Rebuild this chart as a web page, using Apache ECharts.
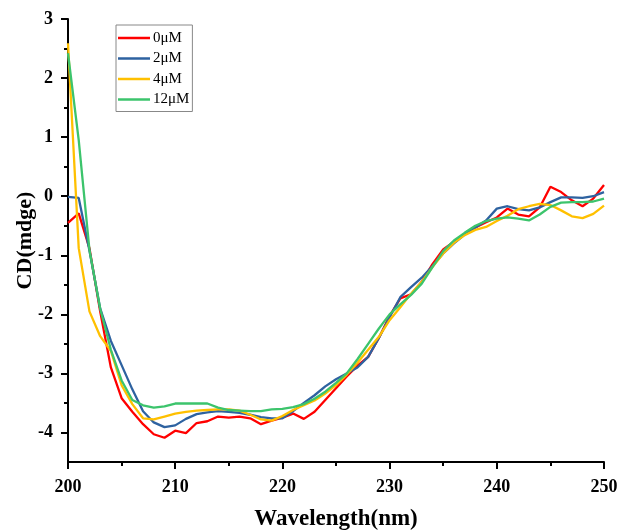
<!DOCTYPE html>
<html>
<head>
<meta charset="utf-8">
<script src="https://cdn.jsdelivr.net/npm/echarts@6/dist/echarts.min.js"></script>
<style>
html,body{margin:0;padding:0;background:#fff;}
#chart{width:622px;height:530px;}
</style>
</head>
<body>
<div id="chart"></div>
<script>
const wavelengths = [];
for (let w = 200; w <= 250; w++) wavelengths.push(w);

const seriesNames = ['0\u03bcM', '2\u03bcM', '4\u03bcM', '12\u03bcM'];

const cd0 = [-0.45,-0.29,-0.88,-1.95,-2.9,-3.42,-3.65,-3.86,-4.03,-4.09,
  -3.97,-4.01,-3.84,-3.81,-3.73,-3.75,-3.73,-3.76,-3.86,-3.80,
  -3.75,-3.68,-3.77,-3.65,-3.45,-3.25,-3.05,-2.87,-2.72,-2.4,
  -2.03,-1.73,-1.66,-1.45,-1.15,-0.9,-0.77,-0.64,-0.53,-0.44,
  -0.36,-0.21,-0.31,-0.34,-0.19,0.16,0.07,-0.07,-0.17,-0.04,0.19];

const cd2 = [-0.01,-0.03,-0.92,-1.9,-2.45,-2.86,-3.27,-3.64,-3.83,-3.91,
  -3.88,-3.77,-3.69,-3.66,-3.64,-3.65,-3.67,-3.70,-3.74,-3.76,
  -3.76,-3.64,-3.5,-3.37,-3.22,-3.1,-3.0,-2.9,-2.72,-2.4,
  -2.05,-1.71,-1.54,-1.38,-1.18,-0.97,-0.8,-0.65,-0.53,-0.41,
  -0.21,-0.17,-0.22,-0.24,-0.19,-0.1,-0.02,-0.02,-0.03,0.0,0.07];

const cd4 = [2.59,-0.88,-1.95,-2.37,-2.62,-3.2,-3.52,-3.76,-3.78,-3.73,
  -3.68,-3.65,-3.63,-3.62,-3.61,-3.61,-3.63,-3.70,-3.78,-3.80,
  -3.72,-3.62,-3.54,-3.46,-3.34,-3.2,-3.02,-2.82,-2.6,-2.38,
  -2.1,-1.88,-1.65,-1.45,-1.2,-0.97,-0.79,-0.66,-0.57,-0.52,
  -0.42,-0.33,-0.22,-0.17,-0.13,-0.15,-0.24,-0.34,-0.37,-0.3,-0.16];

const cd12 = [2.42,0.95,-0.91,-1.9,-2.6,-3.12,-3.45,-3.54,-3.58,-3.56,
  -3.51,-3.51,-3.51,-3.51,-3.58,-3.62,-3.63,-3.64,-3.64,-3.61,
  -3.6,-3.57,-3.52,-3.43,-3.31,-3.16,-3.0,-2.76,-2.5,-2.24,
  -2.0,-1.83,-1.67,-1.48,-1.2,-0.93,-0.75,-0.62,-0.5,-0.42,
  -0.38,-0.36,-0.38,-0.41,-0.31,-0.18,-0.11,-0.1,-0.1,-0.09,-0.04];

const yMajorTicks = [-4,-3,-2,-1,0,1,2,3];
const yMinorTicks = [-3.5,-2.5,-1.5,-0.5,0.5,1.5,2.5];

const colors = ['#ff0000', '#2e62a0', '#ffc000', '#3cc46c'];
const allValues = [cd0, cd2, cd4, cd12];

const font = '"Liberation Serif", "Times New Roman", serif';

const chart = echarts.init(document.getElementById('chart'), null, {renderer: 'canvas'});

const series = allValues.map((vals, i) => ({
  name: seriesNames[i],
  type: 'line',
  symbol: 'none',
  smooth: false,
  data: wavelengths.map((w, j) => [w, vals[j]]),
  lineStyle: {width: 2.3, color: colors[i]},
  itemStyle: {color: colors[i]},
  yAxisIndex: 0,
  z: 2 + i
}));

const axisBase = {
  axisLine: {show: true, onZero: false, lineStyle: {color: '#000', width: 2}},
  splitLine: {show: false},
};

chart.setOption({
  animation: false,
  backgroundColor: '#fff',
  grid: {left: 68, right: 18, top: 19, bottom: 68, containLabel: false, outerBoundsMode: 'none'},
  legend: {
    orient: 'vertical',
    left: 116,
    top: 25,
    icon: 'rect',
    itemWidth: 32,
    itemHeight: 2.5,
    itemGap: 4.5,
    padding: [5, 3, 4, 2],
    borderColor: '#888',
    borderWidth: 1,
    textStyle: {fontFamily: font, fontSize: 15, lineHeight: 16, color: '#000', padding: [0,0,0,-2]},
    data: seriesNames
  },
  xAxis: Object.assign({}, axisBase, {
    type: 'value',
    min: 200,
    max: 250,
    interval: 10,
    name: 'Wavelength(nm)',
    nameLocation: 'middle',
    nameGap: 46,
    nameMoveOverlap: false,
    nameTextStyle: {fontFamily: font, fontSize: 23, fontWeight: 'bold', color: '#000'},
    axisTick: {show: true, length: 7, lineStyle: {color: '#000', width: 2}},
    minorTick: {show: true, splitNumber: 2, length: 4, lineStyle: {color: '#000', width: 2}},
    minorSplitLine: {show: false},
    axisLabel: {fontFamily: font, fontSize: 18, fontWeight: 'bold', color: '#000', margin: 16}
  }),
  yAxis: [
    Object.assign({}, axisBase, {
      type: 'value',
      min: -4.5,
      max: 3,
      name: 'CD(mdge)',
      nameLocation: 'middle',
      nameGap: 32,
      nameMoveOverlap: false,
      nameRotate: 90,
      nameTextStyle: {fontFamily: font, fontSize: 22, fontWeight: 'bold', color: '#000'},
      axisTick: {show: true, length: 7, customValues: yMajorTicks, lineStyle: {color: '#000', width: 2}},
      axisLabel: {fontFamily: font, fontSize: 18, fontWeight: 'bold', color: '#000', margin: 15,
        customValues: yMajorTicks}
    }),
    {
      type: 'value',
      min: -4.5,
      max: 3,
      position: 'left',
      axisLine: {show: false},
      splitLine: {show: false},
      axisLabel: {show: false},
      axisTick: {show: true, length: 4, customValues: yMinorTicks, lineStyle: {color: '#000', width: 2}}
    }
  ],
  series: series
});
</script>
</body>
</html>
